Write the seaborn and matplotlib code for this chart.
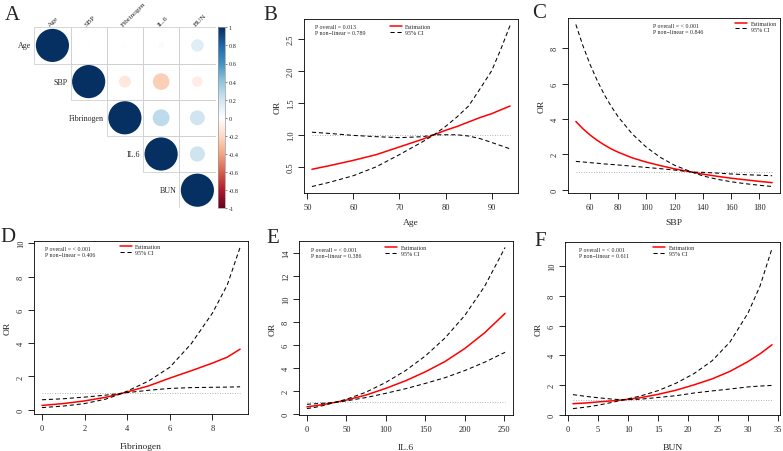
import numpy as np
import pandas as pd
import matplotlib
matplotlib.use("Agg")
import matplotlib.pyplot as plt
from matplotlib.colors import LinearSegmentedColormap, Normalize
from matplotlib.cm import ScalarMappable
from matplotlib.patches import Rectangle
import seaborn as sns

sns.set_style("ticks")
plt.rcParams['font.family'] = ['Liberation Serif', 'DejaVu Serif']
plt.rcParams['axes.xmargin'] = 0.04
plt.rcParams['axes.ymargin'] = 0.04

W, H = 783, 452

# ---- panel A: correlation matrix ----
corr_labels = ['Age', 'SBP', 'Fibrinogen', 'IL.6', 'BUN']
corr = [[1.00, -0.01, 0.015, 0.03, 0.14],
        [-0.01, 1.00, -0.13, -0.25, -0.10],
        [0.015, -0.13, 1.00, 0.26, 0.20],
        [0.03, -0.25, 0.26, 1.00, 0.21],
        [0.14, -0.10, 0.20, 0.21, 1.00]]
cbar_ticks = [-1, -0.8, -0.6, -0.4, -0.2, 0, 0.2, 0.4, 0.6, 0.8, 1]
cbar_labels = ['-1', '-0.8', '-0.6', '-0.4', '-0.2', '0', '0.2', '0.4', '0.6', '0.8', '1']

# ---- panel B: Age ----
age = [51, 55, 60, 65, 70, 75, 77.5, 80, 82.5, 85, 87.5, 90, 92, 94]
age_est = [0.46, 0.52, 0.60, 0.69, 0.81, 0.93, 1.00, 1.07, 1.13, 1.20, 1.27, 1.33, 1.39, 1.45]
age_ci1 = [0.19, 0.26, 0.36, 0.50, 0.69, 0.89, 1.00, 1.13, 1.28, 1.45, 1.72, 2.00, 2.34, 2.71]
age_ci2 = [1.04, 1.02, 0.99, 0.97, 0.955, 0.97, 1.00, 1.00, 1.00, 0.98, 0.94, 0.88, 0.83, 0.78]

# ---- panel C: SBP ----
sbp = [50, 55, 60, 65, 70, 75, 80, 90, 100, 110, 120, 132, 140, 150, 160, 170, 180, 189]
sbp_est = [3.86, 3.45, 3.10, 2.80, 2.54, 2.31, 2.12, 1.80, 1.56, 1.36, 1.18, 1.00, 0.88, 0.76, 0.65, 0.56, 0.47, 0.40]
sbp_ci1 = [9.35, 8.15, 7.10, 6.20, 5.40, 4.72, 4.12, 3.15, 2.40, 1.82, 1.38, 1.00, 0.78, 0.59, 0.45, 0.34, 0.25, 0.18]
sbp_ci2 = [1.60, 1.57, 1.53, 1.50, 1.46, 1.43, 1.40, 1.33, 1.26, 1.19, 1.11, 1.00, 0.98, 0.94, 0.89, 0.85, 0.82, 0.79]

# ---- panel D: Fibrinogen ----
fib = [0, 1, 2, 3, 3.8, 5, 6, 7, 8, 8.7, 9.3]
fib_est = [0.26, 0.37, 0.53, 0.75, 1.00, 1.43, 1.90, 2.34, 2.80, 3.16, 3.64]
fib_ci1 = [0.13, 0.22, 0.37, 0.64, 1.00, 1.72, 2.55, 3.95, 5.80, 7.50, 9.75]
fib_ci2 = [0.60, 0.66, 0.76, 0.88, 1.00, 1.17, 1.28, 1.33, 1.35, 1.36, 1.38]

# ---- panel E: IL.6 ----
il6 = [0, 10, 20, 35, 50, 75, 100, 125, 150, 175, 200, 225, 251]
il6_est = [0.62, 0.71, 0.81, 1.00, 1.21, 1.65, 2.23, 2.89, 3.67, 4.57, 5.70, 7.06, 8.76]
il6_ci1 = [0.47, 0.57, 0.72, 1.00, 1.28, 1.90, 2.75, 3.78, 5.05, 6.62, 8.58, 11.1, 14.5]
il6_ci2 = [0.84, 0.885, 0.93, 1.00, 1.14, 1.43, 1.80, 2.20, 2.66, 3.16, 3.78, 4.50, 5.37]

# ---- panel F: BUN ----
bun = [0.8, 3, 5, 7, 9.2, 12, 15, 18, 21, 24, 27, 30, 32, 34]
bun_est = [0.74, 0.79, 0.86, 0.92, 1.00, 1.14, 1.37, 1.65, 2.01, 2.41, 2.92, 3.58, 4.10, 4.71]
bun_ci1 = [0.41, 0.51, 0.64, 0.80, 1.00, 1.25, 1.62, 2.12, 2.77, 3.63, 4.90, 6.85, 8.67, 11.2]
bun_ci2 = [1.35, 1.23, 1.14, 1.06, 1.00, 1.04, 1.16, 1.28, 1.46, 1.60, 1.73, 1.87, 1.93, 1.97]


fig = plt.figure(figsize=(W / 100, H / 100), dpi=100)


def box(x0, y0, x1, y1):
    return fig.add_axes([x0 / W, 1 - y1 / H, (x1 - x0) / W, (y1 - y0) / H])


# correlation plot
corr_cmap = LinearSegmentedColormap.from_list(
    'corrRdBu', ["#67001F", "#B2182B", "#D6604D", "#F4A582", "#FDDBC7", "#FFFFFF",
                 "#D1E5F0", "#92C5DE", "#4393C3", "#2166AC", "#053061"])
axA = box(34.3, 28.3, 215.5, 209.3)
rows = []
for i in range(len(corr_labels)):
    for j in range(i, len(corr_labels)):
        rows.append({'col': j + 0.5, 'row': i + 0.5, 'r': corr[i][j], 'size': abs(corr[i][j])})
        axA.add_patch(Rectangle((j, i), 1, 1, fill=False, edgecolor='#d0d0d0', lw=0.6))
cdf = pd.DataFrame(rows)
sns.scatterplot(data=cdf, x='col', y='row', hue='r', palette=corr_cmap, hue_norm=(-1, 1),
                size='size', sizes=(0, 570), size_norm=(0, 1), linewidth=0, legend=False, ax=axA)
axA.set_xlim(0, 5)
axA.set_ylim(5, 0)
axA.axis('off')
for i, lab in enumerate(corr_labels):
    axA.text(i - 0.08, i + 0.5, lab, ha='right', va='center', fontsize=5.8)
    axA.text(i + 0.47, -0.02, lab, ha='left', va='bottom', rotation=45,
             rotation_mode='anchor', fontsize=5.3)

cax = box(218.3, 28.3, 224.5, 209.3)
cb = fig.colorbar(ScalarMappable(norm=Normalize(-1, 1), cmap=corr_cmap), cax=cax)
cb.set_ticks(cbar_ticks)
cb.set_ticklabels(cbar_labels)
cax.tick_params(labelsize=4.5, length=1.5, width=0.4, pad=1.5)
cb.outline.set_edgecolor('#999999')
cb.outline.set_linewidth(0.5)


def spline_panel(ax, x, est, ci1, ci2, xticks, yticks, ylabels, xlabel, ptext, ppos, lpos, xpad):
    df = pd.DataFrame({'x': x, 'est': est, 'ci1': ci1, 'ci2': ci2})
    ax.hlines(1, df['x'].min(), df['x'].max(), colors='#9a9a9a',
              linestyles=(0, (1, 2)), lw=0.6)
    sns.lineplot(data=df, x='x', y='est', ax=ax, color='red', lw=1.1, label='Estimation')
    sns.lineplot(data=df, x='x', y='ci1', ax=ax, color='black', lw=0.75,
                 linestyle=(0, (4, 2.7)), label='95% CI')
    sns.lineplot(data=df, x='x', y='ci2', ax=ax, color='black', lw=0.75,
                 linestyle=(0, (4, 2.7)))
    xl, yl = ax.get_xlim(), ax.get_ylim()
    ax.set_xticks(xticks)
    ax.set_yticks(yticks)
    ax.set_yticklabels(ylabels, rotation=90, va='center')
    ax.set_xlim(xl)
    ax.set_ylim(yl)
    ax.tick_params(labelsize=6, length=4, width=0.6, color='black')
    ax.tick_params(axis='x', pad=3.5)
    ax.tick_params(axis='y', pad=2.5)
    for sp in ax.spines.values():
        sp.set_linewidth(0.6)
        sp.set_color('black')
    ax.set_xlabel(xlabel, fontsize=6.8, labelpad=xpad)
    ax.set_ylabel('OR', fontsize=6.8, labelpad=4)
    ax.text(ppos[0], ppos[1], ptext, transform=ax.transAxes, ha='left', va='top',
            fontsize=4.2, linespacing=1.25)
    ax.legend(loc='upper left', bbox_to_anchor=lpos, frameon=False, fontsize=4.3,
              handlelength=2.0, handletextpad=0.6, labelspacing=0.12,
              borderpad=0, borderaxespad=0)


axB = box(304, 20, 518, 194)
spline_panel(axB, age, age_est, age_ci1, age_ci2, [50, 60, 70, 80, 90],
             [0.5, 1.0, 1.5, 2.0, 2.5], ['0.5', '1.0', '1.5', '2.0', '2.5'], 'Age',
             'P overall = 0.013\nP non\u2212linear = 0.789', (0.05, 0.97), (0.40, 0.972), 5)

axC = box(568, 19, 780, 194)
spline_panel(axC, sbp, sbp_est, sbp_ci1, sbp_ci2, [60, 80, 100, 120, 140, 160, 180],
             [0, 2, 4, 6, 8], ['0', '2', '4', '6', '8'], 'SBP',
             'P overall = < 0.001\nP non\u2212linear = 0.846', (0.402, 0.97), (0.788, 0.986), 5)

axD = box(34, 242, 248, 415)
spline_panel(axD, fib, fib_est, fib_ci1, fib_ci2, [0, 2, 4, 6, 8],
             [0, 2, 4, 6, 8, 10], ['0', '2', '4', '6', '8', '10'], 'Fibrinogen',
             'P overall = < 0.001\nP non\u2212linear = 0.406', (0.051, 0.972), (0.40, 0.984), 7)

axE = box(299, 242, 513, 416)
spline_panel(axE, il6, il6_est, il6_ci1, il6_ci2, [0, 50, 100, 150, 200, 250],
             [0, 2, 4, 6, 8, 10, 12, 14], ['0', '2', '4', '6', '8', '10', '12', '14'], 'IL.6',
             'P overall = < 0.001\nP non\u2212linear = 0.386', (0.055, 0.968), (0.402, 0.978), 7)

axF = box(565, 243, 780, 416)
spline_panel(axF, bun, bun_est, bun_ci1, bun_ci2, [0, 5, 10, 15, 20, 25, 30, 35],
             [0, 2, 4, 6, 8, 10], ['0', '2', '4', '6', '8', '10'], 'BUN',
             'P overall = < 0.001\nP non\u2212linear = 0.611', (0.067, 0.973), (0.41, 0.984), 7)

# panel letters
for lab, px, py in [('A', 5, 20), ('B', 263, 20), ('C', 532, 17.5),
                    ('D', 0, 242), ('E', 266, 243), ('F', 534, 246)]:
    fig.text(px / W, 1 - py / H, lab, fontsize=15, ha='left', va='baseline')

fig.savefig('out.png', dpi=100)
